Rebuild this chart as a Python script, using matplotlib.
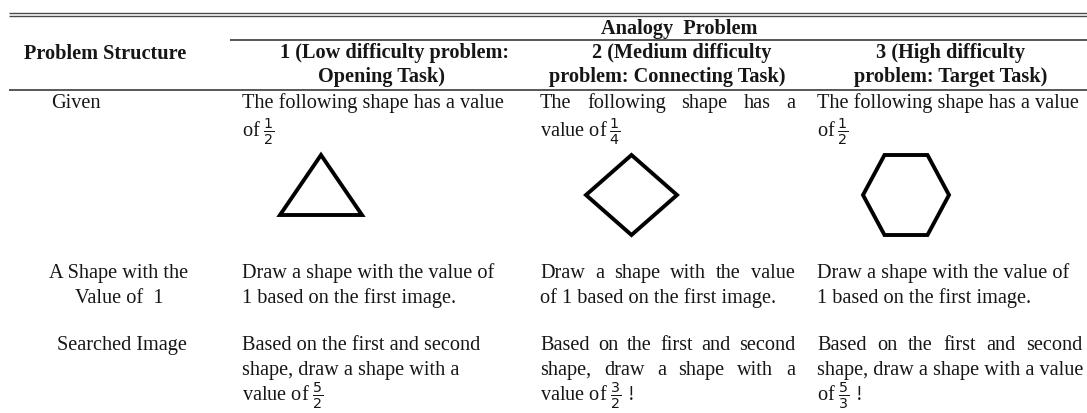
import numpy as np
import matplotlib
matplotlib.use("Agg")
import matplotlib.pyplot as plt
from matplotlib.patches import Polygon

plt.rcParams['font.family'] = ['Liberation Serif', 'DejaVu Serif']
plt.rcParams['mathtext.fontset'] = 'dejavusans'

# ---- table content ----
group_title = "Analogy  Problem"
stub_head = "Problem Structure"
col_heads = [["1 (Low difficulty problem:", "Opening Task)"],
             ["2 (Medium difficulty", "problem: Connecting Task)"],
             ["3 (High difficulty", "problem: Target Task)"]]
row_labels = [["Given"],
              ["A Shape with the", "Value of  1"],
              ["Searched Image"]]
given_lines = [["The following shape has a value", r"of $\frac{1}{2}$"],
               ["The following shape has a", r"value of$\,\frac{1}{4}$"],
               ["The following shape has a value", r"of$\,\frac{1}{2}$"]]
unit_lines = [["Draw a shape with the value of", "1 based on the first image."],
              ["Draw a shape with the value", "of 1 based on the first image."],
              ["Draw a shape with the value of", "1 based on the first image."]]
search_lines = [["Based on the first and second", "shape, draw a shape with a",
                 r"value of $\frac{5}{2}$"],
                ["Based on the first and second", "shape, draw a shape with a",
                 r"value of $\frac{3}{2}$ !"],
                ["Based on the first and second", "shape, draw a shape with a value",
                 r"of $\frac{5}{3}$ !"]]
shape_sides = [3, 4, 6]
shape_start = [90, 90, 0]   # degrees of first vertex

# ---- layout (pixels) ----
W, H = 1087, 413
FS = 14.6
INK = '#161616'
RULE = '#4a4a4a'
col_left = [242, 540, 817]
col_right = [518, 795, 1082]
head_cx = [(394, 382), (682, 667), (951, 951)]
label_cx = [[76], [119, 119], [122]]
given_y = [108, 137]
unit_y = [278, 303]
search_y = [350, 375, 401]
justify_given = [[False, False], [True, False], [False, False]]
justify_unit = [[False, False], [True, False], [False, False]]
justify_search = [[False, False, False], [True, True, False], [True, False, False]]
shape_box = [(280, 155, 362, 215), (586, 155, 677, 235), (863, 155, 949, 235)]

fig = plt.figure(figsize=(W / 100, H / 100), dpi=100)
ax = fig.add_axes([0, 0, 1, 1])
ax.set_xlim(0, W)
ax.set_ylim(H, 0)
ax.axis('off')
renderer = fig.canvas.get_renderer()


def put_line(x0, x1, y, s, justify, **kw):
    if not justify:
        ax.text(x0, y, s, ha='left', va='baseline', **kw)
        return
    words = s.split()
    ts = [ax.text(0, y, w, ha='left', va='baseline', **kw) for w in words]
    widths = [t.get_window_extent(renderer).width for t in ts]
    gap = (x1 - x0 - sum(widths)) / (len(words) - 1)
    x = x0
    for t, w in zip(ts, widths):
        t.set_x(x)
        x += w + gap


txt = dict(fontsize=FS, color=INK)
bold = dict(fontsize=FS, color=INK, fontweight='bold')

# rules
ax.plot([9, W], [12.5, 12.5], color=RULE, lw=1.0, solid_capstyle='butt')
ax.plot([9, W], [15.5, 15.5], color=RULE, lw=1.0, solid_capstyle='butt')
ax.plot([230, W], [39.5, 39.5], color=RULE, lw=1.3, solid_capstyle='butt')
ax.plot([9, W], [89.5, 89.5], color=RULE, lw=1.3, solid_capstyle='butt')

# header
ax.text(679, 34, group_title, ha='center', va='baseline', **bold)
ax.text(105, 59, stub_head, ha='center', va='baseline', **bold)
for j, lines in enumerate(col_heads):
    for k, s in enumerate(lines):
        ax.text(head_cx[j][k], [58, 82][k], s, ha='center', va='baseline', **bold)

# row labels
label_y = [[given_y[0]], unit_y, [search_y[0]]]
for i, lines in enumerate(row_labels):
    for k, s in enumerate(lines):
        ax.text(label_cx[i][k], label_y[i][k], s, ha='center', va='baseline', **txt)

# body cells
for j in range(3):
    for k, s in enumerate(given_lines[j]):
        put_line(col_left[j], col_right[j], given_y[k], s, justify_given[j][k], **txt)
    for k, s in enumerate(unit_lines[j]):
        put_line(col_left[j], col_right[j], unit_y[k], s, justify_unit[j][k], **txt)
    for k, s in enumerate(search_lines[j]):
        put_line(col_left[j], col_right[j], search_y[k], s, justify_search[j][k], **txt)

# shapes: regular polygons fitted into their boxes
for n, a0, (x0, y0, x1, y1) in zip(shape_sides, shape_start, shape_box):
    ang = np.deg2rad(a0 + 360.0 / n * np.arange(n))
    px, py = np.cos(ang), np.sin(ang)
    px = (px - px.min()) / (px.max() - px.min())
    py = (py - py.min()) / (py.max() - py.min())
    verts = np.column_stack([x0 + px * (x1 - x0), y0 + (1 - py) * (y1 - y0)])
    ax.add_patch(Polygon(verts, closed=True, fill=False, ec='black', lw=2.8,
                         joinstyle='miter'))

fig.savefig('out.png', dpi=100, facecolor='white')
